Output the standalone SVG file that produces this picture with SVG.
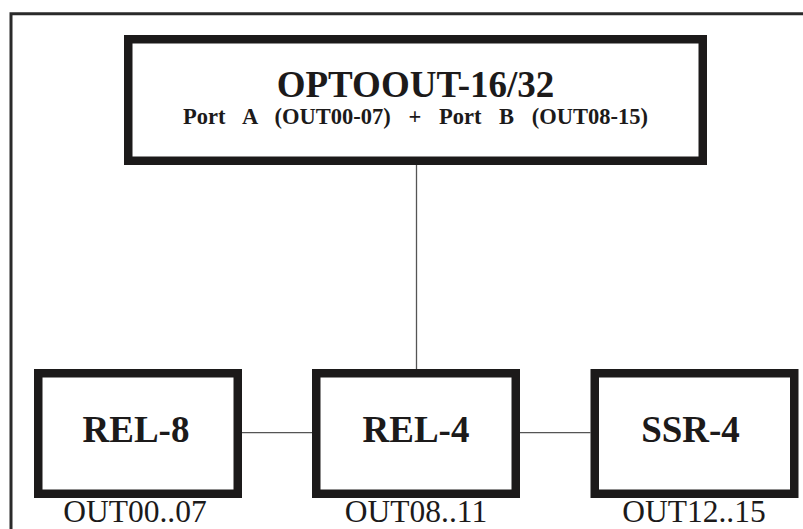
<svg xmlns="http://www.w3.org/2000/svg" width="803" height="529" viewBox="0 0 803 529">
<style>
.box{fill:#fff;stroke:#1c1a1a;stroke-width:8.5}
.frame{fill:none;stroke:#2a2a2a;stroke-width:3}
.conn{fill:none;stroke:#555;stroke-width:1.3}
.title{font-family:"Liberation Serif",serif;font-size:37px;font-weight:bold;fill:#1c1a1a;text-anchor:middle}
.sub{font-family:"Liberation Serif",serif;font-size:22.5px;font-weight:bold;fill:#1c1a1a;text-anchor:middle;word-spacing:12px}
.lbl{font-family:"Liberation Serif",serif;font-size:37px;font-weight:bold;fill:#1c1a1a;text-anchor:middle}
.out{font-family:"Liberation Serif",serif;font-size:31.5px;fill:#1c1a1a;text-anchor:middle}
</style>
<rect width="803" height="529" fill="#fff"/>
<path class="frame" d="M11,529 V13.8 H803"/>
<g id="connectors">
<line class="conn" x1="416.5" y1="165" x2="416.5" y2="369"/>
<line class="conn" x1="242" y1="432.7" x2="312" y2="432.7"/>
<line class="conn" x1="520" y1="432.7" x2="590.5" y2="432.7"/>
</g>
<g id="optoout">
<rect class="box" x="128.25" y="39.25" width="574.5" height="121.5"/>
<text class="title" x="415.5" y="97">OPTOOUT-16/32</text>
<text class="sub" x="415.5" y="124">Port A (OUT00-07) + Port B (OUT08-15)</text>
</g>
<g id="rel8">
<rect class="box" x="38.25" y="373.25" width="199.5" height="120.5"/>
<text class="lbl" x="136" y="441.7">REL-8</text>
<text class="out" x="135" y="522">OUT00..07</text>
</g>
<g id="rel4">
<rect class="box" x="316.25" y="373.25" width="199.5" height="120.5"/>
<text class="lbl" x="416" y="441.7">REL-4</text>
<text class="out" x="416" y="522">OUT08..11</text>
</g>
<g id="ssr4">
<rect class="box" x="594.75" y="373.25" width="199.5" height="120.5"/>
<text class="lbl" x="690.5" y="441.7">SSR-4</text>
<text class="out" x="694" y="522">OUT12..15</text>
</g>
</svg>
